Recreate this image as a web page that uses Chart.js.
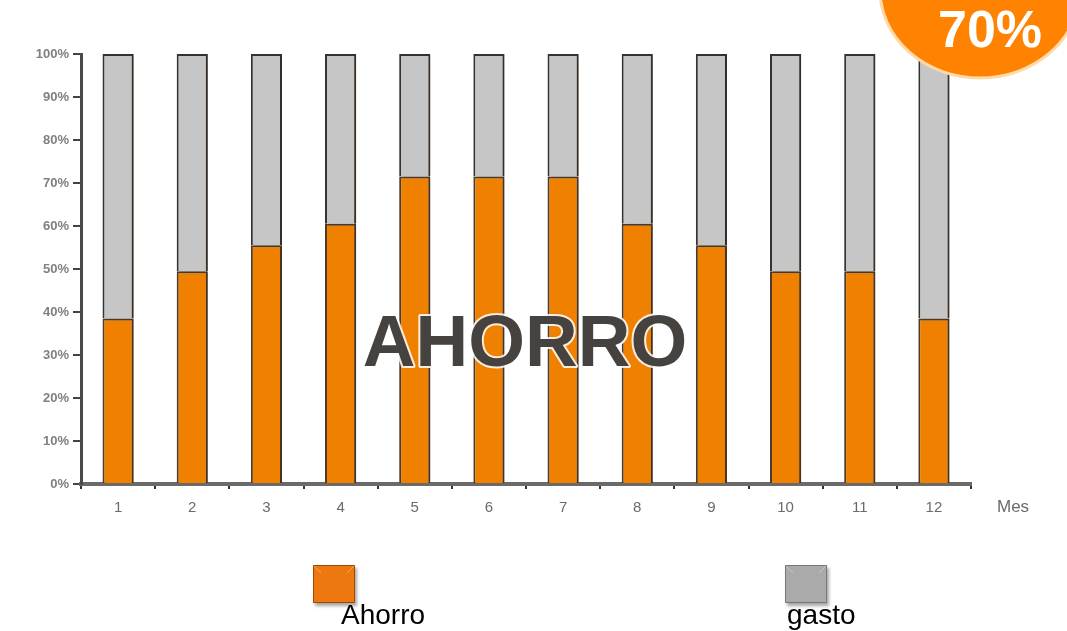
<!DOCTYPE html>
<html>
<head>
<meta charset="utf-8">
<script src="https://cdn.jsdelivr.net/npm/chart.js@4.4.1/dist/chart.umd.min.js"></script>
<style>
  html, body { margin: 0; padding: 0; background: #fff; }
  #wrap { position: relative; width: 1067px; height: 631px; }
</style>
</head>
<body>
<div id="wrap"><canvas id="grafico"></canvas></div>
<script>
// datos
var meses = ['1', '2', '3', '4', '5', '6', '7', '8', '9', '10', '11', '12'];
var ahorro = [38.5, 49.5, 55.5, 60.5, 71.5, 71.5, 71.5, 60.5, 55.5, 49.5, 49.5, 38.5];
var gasto = [61.5, 50.5, 44.5, 39.5, 28.5, 28.5, 28.5, 39.5, 44.5, 50.5, 50.5, 61.5];
var tituloCentro = 'AHORRO';
var etiquetaBurbuja = '70%';
var tituloEjeX = 'Mes';

// ------------------------------------------------------- //
// sombra de las barras
// ------------------------------------------------------ //
var sombraBarras = {
    id: 'sombraBarras',
    beforeDatasetsDraw: function (chart) {
        var ctx = chart.ctx;
        ctx.save();
        ctx.shadowColor = 'rgba(60,40,20,0.4)';
        ctx.shadowOffsetX = 3;
        ctx.shadowOffsetY = 0;
        ctx.shadowBlur = 2;
    },
    afterDatasetsDraw: function (chart) {
        chart.ctx.restore();
    }
};

// ------------------------------------------------------- //
// textos, burbuja y leyenda
// ------------------------------------------------------ //
var adornos = {
    id: 'adornos',
    afterDraw: function (chart) {
        var ctx = chart.ctx;
        var area = chart.chartArea;
        ctx.save();

        // titulo del eje x
        ctx.fillStyle = '#6a6a6a';
        ctx.font = '17px "Liberation Sans", Arial, sans-serif';
        ctx.textAlign = 'left';
        ctx.textBaseline = 'middle';
        ctx.fillText(tituloEjeX, area.right + 26, 507);

        // texto grande del centro
        ctx.font = 'bold 73px "Liberation Sans", Arial, sans-serif';
        ctx.textAlign = 'center';
        ctx.textBaseline = 'middle';
        ctx.lineJoin = 'round';
        ctx.strokeStyle = 'rgba(255,255,255,0.85)';
        ctx.lineWidth = 4;
        ctx.strokeText(tituloCentro, 525, 346);
        ctx.fillStyle = '#454240';
        ctx.fillText(tituloCentro, 525, 346);

        // burbuja naranja
        ctx.beginPath();
        ctx.ellipse(980, -10, 100, 88, 0, 0, Math.PI * 2);
        ctx.fillStyle = '#ff8300';
        ctx.fill();
        ctx.lineWidth = 3;
        ctx.strokeStyle = '#ffd9a8';
        ctx.stroke();
        ctx.fillStyle = '#ffffff';
        ctx.font = 'bold 52px "Liberation Sans", Arial, sans-serif';
        ctx.textAlign = 'center';
        ctx.textBaseline = 'alphabetic';
        ctx.fillText(etiquetaBurbuja, 990, 47);

        // leyenda
        var posiciones = [313, 785];
        chart.data.datasets.forEach(function (ds, i) {
            var x = posiciones[i];
            ctx.save();
            ctx.shadowColor = 'rgba(0,0,0,0.35)';
            ctx.shadowOffsetX = 2;
            ctx.shadowOffsetY = 3;
            ctx.shadowBlur = 3;
            ctx.fillStyle = ds.legendColor;
            ctx.fillRect(x, 565, 42, 38);
            ctx.restore();
            ctx.strokeStyle = ds.legendBorder;
            ctx.lineWidth = 1;
            ctx.strokeRect(x + 0.5, 565.5, 41, 37);
            // bisel
            ctx.strokeStyle = 'rgba(255,255,255,0.35)';
            ctx.beginPath();
            ctx.moveTo(x + 1, 566); ctx.lineTo(x + 8, 573);
            ctx.moveTo(x + 41, 566); ctx.lineTo(x + 34, 573);
            ctx.stroke();
            ctx.fillStyle = '#000';
            ctx.font = '28px "Liberation Sans", Arial, sans-serif';
            ctx.textAlign = 'left';
            ctx.textBaseline = 'alphabetic';
            ctx.fillText(ds.label, x + (i === 0 ? 28 : 2), 624);
        });

        ctx.restore();
    }
};

var ctxB = document.getElementById('grafico').getContext('2d');
var grafico = new Chart(ctxB, {
    type: 'bar',
    data: {
        labels: meses,
        datasets: [{
            label: 'Ahorro',
            data: ahorro,
            backgroundColor: '#f08000',
            borderColor: '#4d3a28',
            borderWidth: 2,
            legendColor: '#ee7810',
            legendBorder: '#a04800',
            barPercentage: 0.42,
            categoryPercentage: 1
        }, {
            label: 'gasto',
            data: gasto,
            backgroundColor: '#c6c6c6',
            borderColor: '#333333',
            borderWidth: 2,
            legendColor: '#aaaaaa',
            legendBorder: '#777777',
            barPercentage: 0.42,
            categoryPercentage: 1
        }]
    },
    options: {
        responsive: true,
        maintainAspectRatio: false,
        animation: false,
        layout: {
            padding: { top: 54, right: 96, left: 0, bottom: 0 }
        },
        plugins: {
            legend: { display: false },
            tooltip: { enabled: false }
        },
        scales: {
            x: {
                stacked: true,
                grid: {
                    drawOnChartArea: false,
                    drawTicks: true,
                    tickLength: 5,
                    color: '#333',
                    lineWidth: 2
                },
                border: { color: '#6a6a6a', width: 4 },
                ticks: {
                    color: '#6a6a6a',
                    font: { family: '"Liberation Sans", Arial, sans-serif', size: 15 },
                    padding: 10
                },
                afterFit: function (scale) { scale.height = 147; }
            },
            y: {
                stacked: true,
                min: 0,
                max: 100,
                grid: {
                    drawOnChartArea: false,
                    drawTicks: true,
                    tickLength: 8,
                    color: '#444',
                    lineWidth: 2
                },
                border: { color: '#4a4a4a', width: 3 },
                ticks: {
                    stepSize: 10,
                    color: '#808080',
                    padding: 4,
                    font: { family: '"Liberation Sans", Arial, sans-serif', size: 13, weight: 'bold' },
                    callback: function (v) { return v + '%'; }
                },
                afterFit: function (scale) { scale.width = 81; }
            }
        }
    },
    plugins: [sombraBarras, adornos]
});
</script>
</body>
</html>
